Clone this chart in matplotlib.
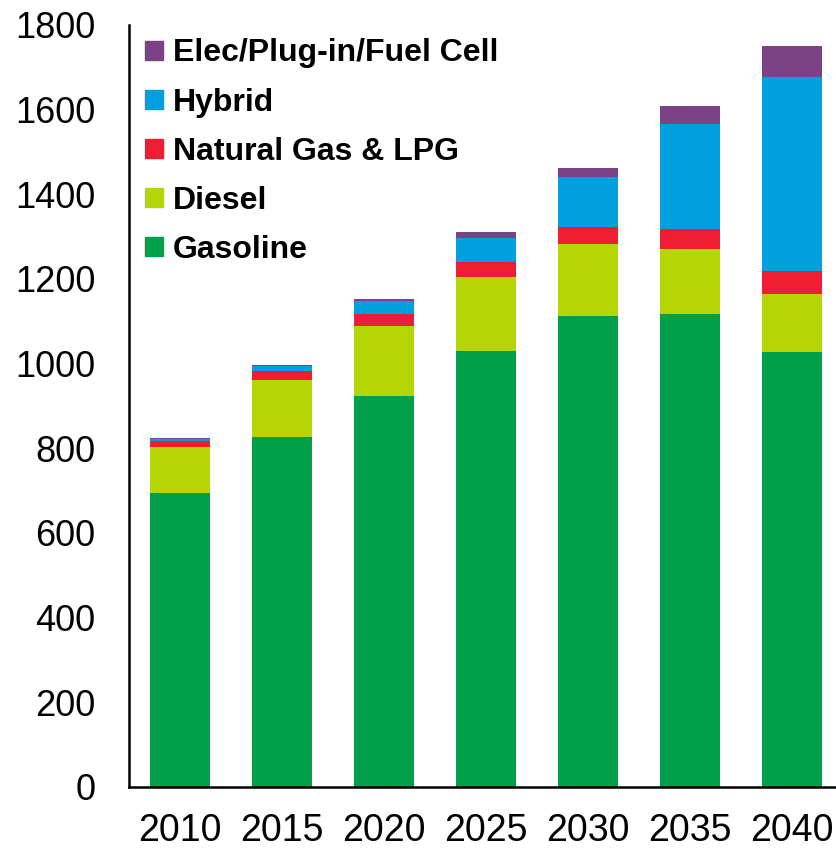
import matplotlib
matplotlib.use("Agg")
import matplotlib.pyplot as plt
from matplotlib.patches import Patch
import numpy as np

plt.rcParams['font.family'] = ['Liberation Sans', 'DejaVu Sans']

# data
years = ['2010', '2015', '2020', '2025', '2030', '2035', '2040']
gasoline = [695, 827, 924, 1030, 1113, 1118, 1027]
diesel = [107, 134, 166, 175, 169, 152, 138]
natgas = [15, 21, 27, 36, 41, 47, 53]
hybrid = [4, 12, 31, 57, 117, 249, 459]
elec = [3, 3, 5, 12, 22, 42, 73]

series = [
    ('Gasoline', gasoline, '#00A04B'),
    ('Diesel', diesel, '#B6D504'),
    ('Natural Gas & LPG', natgas, '#EE1D30'),
    ('Hybrid', hybrid, '#00A0DF'),
    ('Elec/Plug-in/Fuel Cell', elec, '#7B4285'),
]

fig = plt.figure(figsize=(8.37, 8.48), dpi=100)
ax = fig.add_axes([129/837, 61/848, 714/837, 762/848])

x = np.arange(len(years))
bottom = np.zeros(len(years))
for name, vals, col in series:
    ax.bar(x, vals, width=0.59, bottom=bottom, color=col, label=name)
    bottom += np.array(vals)

ax.set_xlim(-0.5, 6.5)
ax.set_ylim(0, 1800)
ax.set_yticks(range(0, 1801, 200))
ax.set_xticks(x)
ax.set_xticklabels(years)
ax.tick_params(axis='y', length=0, labelsize=26, pad=24)
ax.tick_params(axis='x', length=0, labelsize=27, pad=19)
for s in ['top', 'right']:
    ax.spines[s].set_visible(False)
for s in ['left', 'bottom']:
    ax.spines[s].set_linewidth(1.8)
    ax.spines[s].set_color('black')

handles = [Patch(color=col, label=name) for name, vals, col in series[::-1]]
ax.legend(handles=handles, loc='upper left', bbox_to_anchor=(-0.015, 1.018),
          frameon=False, prop={'weight': 'bold', 'size': 23},
          handlelength=0.55, handleheight=0.55, handletextpad=0.3,
          labelspacing=0.6, borderaxespad=0.45)

fig.savefig('out.png', dpi=100)
